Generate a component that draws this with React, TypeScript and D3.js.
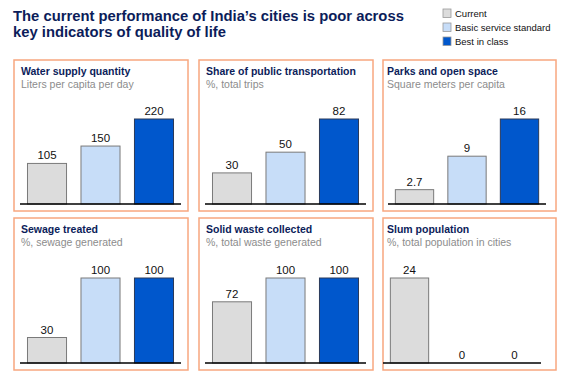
import React from "react";
import * as d3 from "d3";

const WIDTH = 570;
const HEIGHT = 379;

const seriesNames = ["Current", "Basic service standard", "Best in class"];
const panelTitles = [
  "Water supply quantity",
  "Share of public transportation",
  "Parks and open space",
  "Sewage treated",
  "Solid waste collected",
  "Slum population",
];
const panelSubtitles = [
  "Liters per capita per day",
  "%, total trips",
  "Square meters per capita",
  "%, sewage generated",
  "%, total waste generated",
  "%, total population in cities",
];
const currentValues = [105, 30, 2.7, 30, 72, 24];
const basicValues = [150, 50, 9, 100, 100, 0];
const bestValues = [220, 82, 16, 100, 100, 0];

const COLORS = ["#dcdcdc", "#c7ddf8", "#0057cc"];
const STROKES = ["#7a7a7a", "#7a7a7a", "#2a3a5a"];
const NAVY = "#0c1d5a";
const BORDER = "#f8a77f";
const FONT = "'Liberation Sans', Arial, Helvetica, sans-serif";

// panel frames: x, y, w, h, inner left/right margins of the baseline, title offset
const LAYOUT = [
  { x: 14, y: 60, w: 174, h: 151, l: 6, r: 7, tx: 7 },
  { x: 199, y: 60, w: 174, h: 151, l: 6, r: 7, tx: 7 },
  { x: 383, y: 60, w: 173, h: 151, l: 5, r: 10, tx: 4 },
  { x: 14, y: 218, w: 174, h: 152, l: 6, r: 7, tx: 7 },
  { x: 199, y: 218, w: 174, h: 152, l: 6, r: 7, tx: 7 },
  { x: 383, y: 218, w: 173, h: 152, l: 0, r: 15, tx: 4 },
];

function Panel({ i }: { i: number }) {
  const L = LAYOUT[i];
  const values = [currentValues[i], basicValues[i], bestValues[i]];
  const baseY = L.y + L.h - 7;
  const x = d3
    .scaleBand<string>()
    .domain(seriesNames)
    .range([L.x + L.l, L.x + L.w - L.r])
    .paddingInner(0.27)
    .paddingOuter(0.14);
  const maxV = d3.max(values) as number;
  const y = d3.scaleLinear().domain([0, maxV]).range([baseY, baseY - 85]);
  return (
    <g>
      <rect x={L.x} y={L.y} width={L.w} height={L.h} fill="white" stroke={BORDER} strokeWidth={1.5} />
      <text x={L.x + L.tx} y={L.y + 15} fontSize={10.5} fontWeight="bold" fill={NAVY} fontFamily={FONT}>
        {panelTitles[i]}
      </text>
      <text x={L.x + L.tx} y={L.y + 27.5} fontSize={10.5} fill="#8c8c8c" fontFamily={FONT}>
        {panelSubtitles[i]}
      </text>
      {values.map((v, k) => {
        const bx = x(seriesNames[k]) as number;
        const by = y(v);
        return (
          <g key={k}>
            {v > 0 && (
              <rect
                x={bx}
                y={by}
                width={x.bandwidth()}
                height={baseY - by}
                fill={COLORS[k]}
                stroke={STROKES[k]}
                strokeWidth={1}
              />
            )}
            <text
              x={bx + x.bandwidth() / 2}
              y={by - 4}
              textAnchor="middle"
              fontSize={11.5}
              fill="#111"
              fontFamily={FONT}
            >
              {String(v)}
            </text>
          </g>
        );
      })}
      <line x1={L.x + L.l} x2={L.x + L.w - L.r} y1={baseY} y2={baseY} stroke="#000" strokeWidth={1.6} />
    </g>
  );
}

export default function App() {
  return (
    <svg width={WIDTH} height={HEIGHT} style={{ display: "block", position: "absolute", left: 0, top: 0 }}>
      <rect x={0} y={0} width={WIDTH} height={HEIGHT} fill="white" />
      <text x={13} y={20.5} fontSize={14.8} fontWeight="bold" fill={NAVY} fontFamily={FONT}>
        The current performance of India’s cities is poor across
      </text>
      <text x={13} y={37} fontSize={14.8} fontWeight="bold" fill={NAVY} fontFamily={FONT}>
        key indicators of quality of life
      </text>
      {seriesNames.map((s, k) => (
        <g key={s}>
          <rect x={443} y={9 + k * 14} width={8} height={8.5} fill={COLORS[k]} stroke="#9a9a9a" strokeWidth={0.8} />
          <text x={455} y={16.5 + k * 14} fontSize={9.5} fill="#111" fontFamily={FONT}>
            {s}
          </text>
        </g>
      ))}
      {panelTitles.map((_, i) => (
        <Panel key={i} i={i} />
      ))}
    </svg>
  );
}
